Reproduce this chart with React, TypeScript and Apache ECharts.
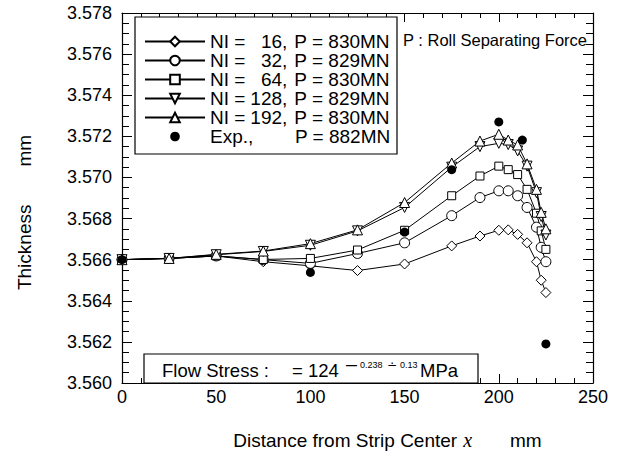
import { useEffect, useRef } from "react";
import * as echarts from "echarts";

const FONT = "'Liberation Sans', Arial, Helvetica, sans-serif";

// distances from strip center (mm) at which the simulations were evaluated
const xPositions = [0, 25, 50, 75, 100, 125, 150, 175, 190, 200, 205, 210, 215, 220, 222.5, 225];

const ni16 = [3.566, 3.56606, 3.56618, 3.5659, 3.5657, 3.56547, 3.56579, 3.56667, 3.56715, 3.56743, 3.56745, 3.56723, 3.56682, 3.5659, 3.565, 3.5644];
const ni32 = [3.566, 3.56606, 3.56618, 3.566, 3.56582, 3.5663, 3.56682, 3.56814, 3.56902, 3.56935, 3.56935, 3.56911, 3.56854, 3.56758, 3.5666, 3.5659];
const ni64 = [3.566, 3.56606, 3.56618, 3.56601, 3.56606, 3.56647, 3.56743, 3.56911, 3.57007, 3.57055, 3.57038, 3.57014, 3.56942, 3.56826, 3.5674, 3.5665];
const ni128 = [3.566, 3.56606, 3.56624, 3.5664, 3.5667, 3.5674, 3.56854, 3.5705, 3.5715, 3.57166, 3.5716, 3.57129, 3.57055, 3.56926, 3.5681, 3.5672];
const ni192 = [3.566, 3.56606, 3.56626, 3.56642, 3.56678, 3.56745, 3.56878, 3.5707, 3.57177, 3.5721, 3.57182, 3.57158, 3.57066, 3.56942, 3.5683, 3.5675];

const expX = [0, 100, 150, 175, 200, 212.5, 225];
const expY = [3.566, 3.56538, 3.56734, 3.57038, 3.5727, 3.57182, 3.5619];

const niLabels = ["16", "32", "64", "128", "192"];
const forceLabels = ["830", "829", "830", "829", "830"];
const expForce = "882";

const xRange = [0, 250, 50];
const yRange = [3.56, 3.578, 0.002];

const simDefs = [
  { values: ni16, symbol: "diamond", size: 10, rotate: 0 },
  { values: ni32, symbol: "circle", size: 10, rotate: 0 },
  { values: ni64, symbol: "rect", size: 8, rotate: 0 },
  { values: ni128, symbol: "triangle", size: 10, rotate: 180 },
  { values: ni192, symbol: "triangle", size: 10, rotate: 0 },
];

export default function App() {
  const ref = useRef<HTMLDivElement>(null);

  useEffect(() => {
    const chart = echarts.init(ref.current!, null, { renderer: "svg" });

    const simNames = niLabels.map((n, i) => `NI = ${n}, P = ${forceLabels[i]}MN`);
    const expName = `Exp., P = ${expForce}MN`;

    const series: any[] = simDefs.map((s, i) => ({
      name: simNames[i],
      type: "line",
      data: xPositions.map((x, k) => [x, s.values[k]]),
      symbol: s.symbol,
      symbolSize: s.size,
      symbolRotate: s.rotate,
      showAllSymbol: true,
      lineStyle: { color: "#000", width: 1 },
      itemStyle: { color: "#fff", borderColor: "#000", borderWidth: 1 },
      emphasis: { disabled: true },
    }));
    series.push({
      name: expName,
      type: "line",
      data: expX.map((x, k) => [x, expY[k]]),
      symbol: "circle",
      symbolSize: 9,
      showAllSymbol: true,
      lineStyle: { opacity: 0, width: 0 },
      itemStyle: { color: "#000" },
      emphasis: { disabled: true },
    });

    const tok = { fontSize: 18, fontFamily: FONT, color: "#000" };
    const ltok = { fontSize: 19, fontFamily: FONT, color: "#000", lineHeight: 18.7 };
    const digitW = 0.556 * 19;

    const xBase: any = {
      type: "value",
      min: xRange[0],
      max: xRange[1],
      interval: xRange[2],
      axisLine: { show: true, onZero: false, lineStyle: { color: "#000", width: 1.2 } },
      axisTick: { show: true, inside: true, length: 9, lineStyle: { color: "#000", width: 1 } },
      minorTick: { show: true, splitNumber: 5, length: 5, lineStyle: { color: "#000", width: 1 } },
      splitLine: { show: false },
      minorSplitLine: { show: false },
    };
    const yBase: any = {
      type: "value",
      min: yRange[0],
      max: yRange[1],
      interval: yRange[2],
      axisLine: { show: true, onZero: false, lineStyle: { color: "#000", width: 1.2 } },
      axisTick: { show: true, inside: true, length: 10, lineStyle: { color: "#000", width: 1 } },
      minorTick: { show: true, splitNumber: 4, length: 7, lineStyle: { color: "#000", width: 1 } },
      splitLine: { show: false },
      minorSplitLine: { show: false },
    };

    const numRich: any = {};
    niLabels.forEach((n, i) => {
      numRich["n" + i] = { ...ltok, padding: [0, 0, 0, 5 + (3 - n.length) * digitW] };
    });

    chart.setOption({
      animation: false,
      grid: { left: 122, right: 30, top: 13, bottom: 67, containLabel: false },
      xAxis: [
        {
          ...xBase,
          position: "bottom",
          axisLabel: { fontSize: 18, color: "#000", fontFamily: FONT, margin: 5 },
          name: "{a|Distance from Strip Center}{x|x}{m|mm}",
          nameLocation: "middle",
          nameGap: 47,
          nameTextStyle: {
            padding: [0, 0, 0, 60],
            rich: {
              a: { ...tok, fontSize: 19 },
              x: { fontSize: 20, fontFamily: "'Liberation Serif', 'Times New Roman', serif", fontStyle: "italic", color: "#000", padding: [0, 0, 0, 6] },
              m: { ...tok, fontSize: 19, padding: [0, 0, 0, 38] },
            },
          },
        },
        { ...xBase, position: "top", axisLabel: { show: false } },
      ],
      yAxis: [
        {
          ...yBase,
          position: "left",
          axisLabel: {
            fontSize: 18,
            color: "#000",
            fontFamily: FONT,
            margin: 10,
            formatter: (v: number) => v.toFixed(3),
          },
          name: "{t|Thickness}{m|mm}",
          nameLocation: "middle",
          nameRotate: 90,
          nameGap: 88,
          nameTextStyle: {
            padding: [0, 29, 0, 0],
            rich: { t: { ...tok, fontSize: 19 }, m: { ...tok, fontSize: 19, padding: [0, 0, 0, 38] } },
          },
        },
        { ...yBase, position: "right", axisLabel: { show: false } },
      ],
      legend: {
        orient: "vertical",
        left: 144,
        top: 32,
        padding: 0,
        itemWidth: 60,
        itemHeight: 12,
        itemGap: 0,
        selectedMode: false,
        z: 20,
        data: [...simNames, { name: expName, lineStyle: { opacity: 0, width: 0 } }],
        formatter: (name: string) => {
          if (name === expName) return `{e|Exp.,}{d|P = ${expForce}MN}`;
          const i = simNames.indexOf(name);
          return `{a|NI =}{n${i}|${niLabels[i]}}{c|,}{d|P = ${forceLabels[i]}MN}`;
        },
        textStyle: {
          ...ltok,
          rich: {
            a: { ...ltok },
            c: { ...ltok },
            d: { ...ltok, padding: [0, 0, 0, 7] },
            e: { ...ltok, width: 78 },
            ...numRich,
          },
        },
      },
      graphic: [
        {
          type: "rect",
          z: 10,
          silent: true,
          shape: { x: 135, y: 17, width: 262, height: 137 },
          style: { fill: "#fff", stroke: "#000", lineWidth: 1.2 },
        },
        {
          type: "text",
          z: 11,
          x: 403,
          y: 40,
          style: { text: "P : Roll Separating Force", fontSize: 16.5, fontFamily: FONT, fill: "#000", verticalAlign: "middle" },
        },
        {
          type: "rect",
          z: 10,
          silent: true,
          shape: { x: 144, y: 354, width: 334, height: 29 },
          style: { fill: "#fff", stroke: "#000", lineWidth: 1.2 },
        },
        { type: "text", z: 11, x: 162, y: 370, style: { text: "Flow Stress :", fontSize: 18.5, fontFamily: FONT, fill: "#000", verticalAlign: "middle" } },
        { type: "text", z: 11, x: 292, y: 370, style: { text: "= 124", fontSize: 18.5, fontFamily: FONT, fill: "#000", verticalAlign: "middle" } },
        { type: "text", z: 11, x: 346, y: 365, style: { text: "—", fontSize: 11, fontFamily: FONT, fill: "#000", fontWeight: "bold", verticalAlign: "middle" } },
        { type: "text", z: 11, x: 360, y: 365, style: { text: "0.238", fontSize: 9, fontFamily: FONT, fill: "#000", verticalAlign: "middle" } },
        { type: "text", z: 11, x: 387, y: 365, style: { text: "∸", fontSize: 12, fontFamily: "'DejaVu Sans', sans-serif", fill: "#000", verticalAlign: "middle" } },
        { type: "text", z: 11, x: 400, y: 365, style: { text: "0.13", fontSize: 9, fontFamily: FONT, fill: "#000", verticalAlign: "middle" } },
        { type: "text", z: 11, x: 420, y: 370, style: { text: "MPa", fontSize: 18.5, fontFamily: FONT, fill: "#000", verticalAlign: "middle" } },
      ],
      series,
    });

    return () => chart.dispose();
  }, []);

  return (
    <div
      ref={ref}
      style={{ position: "absolute", left: 0, top: 0, width: 623, height: 455, background: "#fff" }}
    />
  );
}
